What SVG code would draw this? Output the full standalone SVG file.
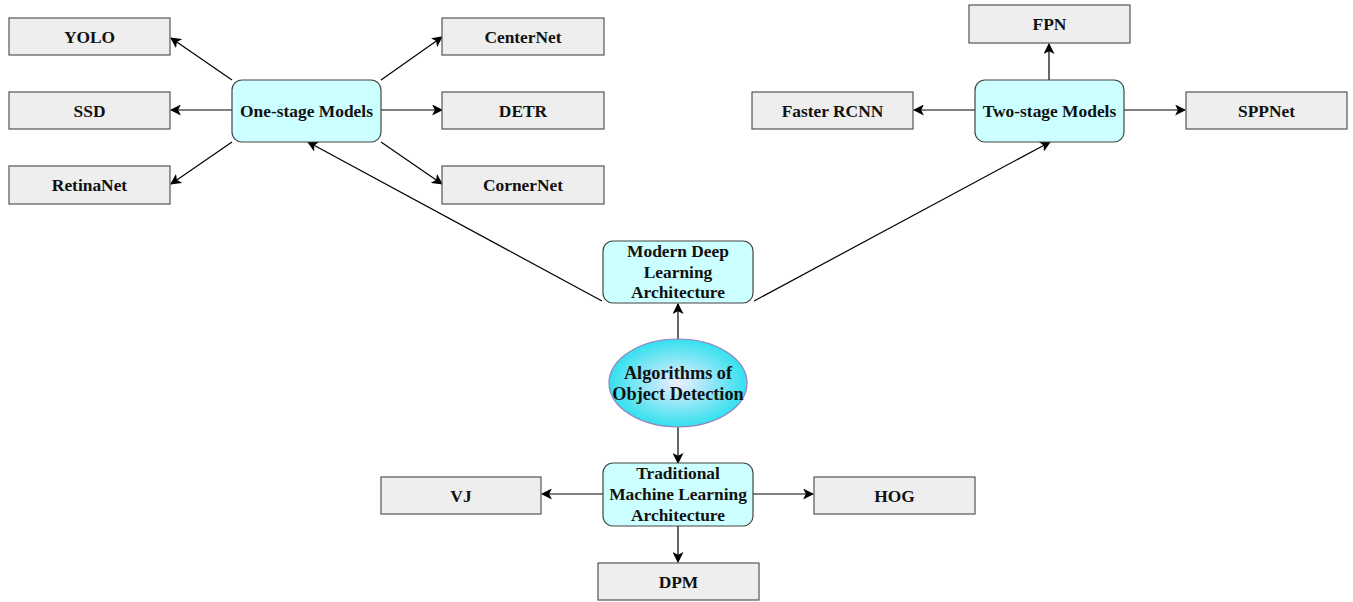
<svg xmlns="http://www.w3.org/2000/svg" width="1353" height="602" viewBox="0 0 1353 602">
  <defs>
    <marker id="arrow" viewBox="0 0 10 10" refX="9" refY="5" markerWidth="11" markerHeight="11" markerUnits="userSpaceOnUse" orient="auto">
      <path d="M0,0 L10,5 L0,10 L2.5,5 Z" fill="#000"/>
    </marker>
    <radialGradient id="ellipseFill" cx="50%" cy="50%" r="50%">
      <stop offset="0" stop-color="#eeeeff"/>
      <stop offset="1" stop-color="#33e0ee"/>
    </radialGradient>
    <style>
      .leaf { fill: #eeeeee; stroke: #555555; stroke-width: 1.2; }
      .group { fill: #ccffff; stroke: #444444; stroke-width: 1.2; }
      .root { fill: url(#ellipseFill); stroke: #9a7fbf; stroke-width: 1.2; }
      .lbl { font-family: "Liberation Serif", "Times New Roman", serif; font-weight: bold; font-size: 17.4px; fill: #111; text-anchor: middle; dominant-baseline: central; }
      .big { font-size: 18.3px; }
      .edge { fill: none; stroke: #000; stroke-width: 1.2; marker-end: url(#arrow); }
    </style>
  </defs>
  <rect width="1353" height="602" fill="#ffffff"/>

  <g id="connectors">
    <!-- one-stage fan-out -->
    <line class="edge" x1="232" y1="80" x2="171" y2="38"/>
    <line class="edge" x1="232" y1="110" x2="171" y2="110"/>
    <line class="edge" x1="232" y1="142" x2="171" y2="184"/>
    <line class="edge" x1="381" y1="80" x2="442" y2="37"/>
    <line class="edge" x1="381" y1="110" x2="442" y2="110"/>
    <line class="edge" x1="381" y1="142" x2="442" y2="184"/>
    <!-- two-stage fan-out -->
    <line class="edge" x1="1049" y1="80" x2="1049" y2="44"/>
    <line class="edge" x1="975" y1="110" x2="914" y2="110"/>
    <line class="edge" x1="1124" y1="110" x2="1185" y2="110"/>
    <!-- modern deep learning -->
    <line class="edge" x1="602" y1="301" x2="308" y2="142"/>
    <line class="edge" x1="754" y1="301" x2="1050" y2="142"/>
    <!-- root -->
    <line class="edge" x1="678" y1="339" x2="678" y2="304"/>
    <line class="edge" x1="678" y1="427" x2="678" y2="463"/>
    <!-- traditional -->
    <line class="edge" x1="603" y1="494" x2="542" y2="494"/>
    <line class="edge" x1="753" y1="494" x2="813" y2="494"/>
    <line class="edge" x1="678" y1="526" x2="678" y2="562"/>
  </g>

  <g id="yolo"><rect class="leaf" x="9" y="18" width="161" height="37"/><text class="lbl" x="89.5" y="36.5">YOLO</text></g>
  <g id="ssd"><rect class="leaf" x="9" y="92" width="161" height="37"/><text class="lbl" x="89.5" y="110.5">SSD</text></g>
  <g id="retinanet"><rect class="leaf" x="9" y="166" width="161" height="38"/><text class="lbl" x="89.5" y="185">RetinaNet</text></g>

  <g id="centernet"><rect class="leaf" x="442" y="18" width="162" height="37"/><text class="lbl" x="523" y="36.5">CenterNet</text></g>
  <g id="detr"><rect class="leaf" x="442" y="92" width="162" height="37"/><text class="lbl" x="523" y="110.5">DETR</text></g>
  <g id="cornernet"><rect class="leaf" x="442" y="166" width="162" height="38"/><text class="lbl" x="523" y="185">CornerNet</text></g>

  <g id="one-stage"><rect class="group" x="232" y="80" width="149" height="62" rx="10"/><text class="lbl" x="306.5" y="111">One-stage Models</text></g>

  <g id="fpn"><rect class="leaf" x="969" y="5" width="161" height="38"/><text class="lbl" x="1049.5" y="24">FPN</text></g>
  <g id="faster-rcnn"><rect class="leaf" x="752" y="92" width="161" height="37"/><text class="lbl" x="832.5" y="110.5">Faster RCNN</text></g>
  <g id="sppnet"><rect class="leaf" x="1186" y="92" width="161" height="37"/><text class="lbl" x="1266.5" y="110.5">SPPNet</text></g>
  <g id="two-stage"><rect class="group" x="975" y="80" width="149" height="62" rx="10"/><text class="lbl" x="1049.5" y="111">Two-stage Models</text></g>

  <g id="modern"><rect class="group" x="603" y="241" width="150" height="62" rx="10"/>
    <text class="lbl" x="678" y="251">Modern Deep</text>
    <text class="lbl" x="678" y="271.5">Learning</text>
    <text class="lbl" x="678" y="292">Architecture</text>
  </g>

  <g id="root"><ellipse class="root" cx="678" cy="383" rx="69" ry="44"/>
    <text class="lbl big" x="678" y="373">Algorithms of</text>
    <text class="lbl big" x="678" y="394">Object Detection</text>
  </g>

  <g id="traditional"><rect class="group" x="603" y="463" width="150" height="63" rx="10"/>
    <text class="lbl" x="678" y="473">Traditional</text>
    <text class="lbl" x="678" y="494">Machine Learning</text>
    <text class="lbl" x="678" y="515">Architecture</text>
  </g>

  <g id="vj"><rect class="leaf" x="381" y="477" width="160" height="37"/><text class="lbl" x="461" y="495.5">VJ</text></g>
  <g id="hog"><rect class="leaf" x="814" y="477" width="161" height="37"/><text class="lbl" x="894.5" y="495.5">HOG</text></g>
  <g id="dpm"><rect class="leaf" x="598" y="563" width="161" height="37"/><text class="lbl" x="678.5" y="581.5">DPM</text></g>
</svg>
